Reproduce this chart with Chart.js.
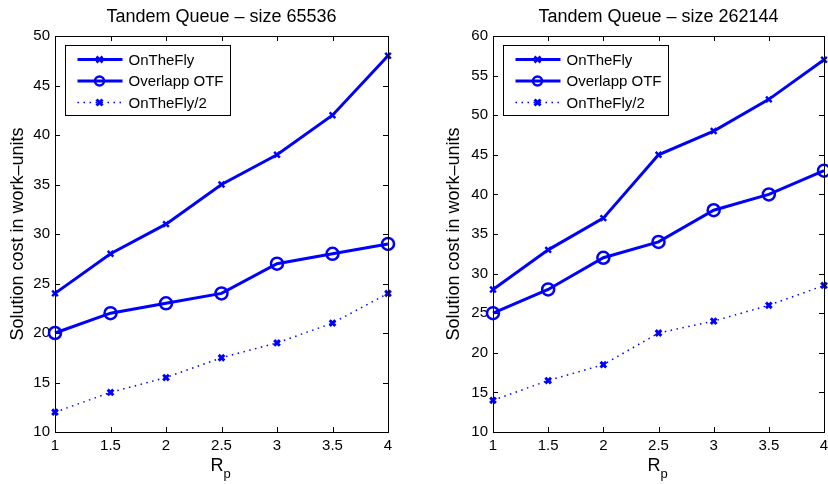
<!DOCTYPE html>
<html>
<head>
<meta charset="utf-8">
<script src="https://cdn.jsdelivr.net/npm/chart.js@4/dist/chart.umd.min.js"></script>
<style>
html, body { margin: 0; padding: 0; background: #fff; overflow: hidden; width: 828px; height: 484px; }
.panel { position: absolute; top: 0; height: 484px; }
</style>
</head>
<body>
<div class="panel" style="left:0"><canvas id="c1" width="414" height="484"></canvas></div>
<div class="panel" style="left:414px"><canvas id="c2" width="424" height="484"></canvas></div>
<script>
// x values (R_p) shared by both panels
var rp = [1, 1.5, 2, 2.5, 3, 3.5, 4];
var seriesNames = ["OnTheFly", "Overlapp OTF", "OnTheFly/2"];

// size 65536
var fly65536 = [24, 28, 31, 35, 38, 42, 48];
var otf65536 = [20, 22, 23, 24, 27, 28, 29];
var half65536 = [12, 14, 15.5, 17.5, 19, 21, 24];

// size 262144
var fly262144 = [28, 33, 37, 45, 48, 52, 57];
var otf262144 = [25, 28, 32, 34, 38, 40, 43];
var half262144 = [14, 16.5, 18.5, 22.5, 24, 26, 28.5];

var FONT = "'Liberation Sans', Arial, Helvetica, sans-serif";
var BLUE = "#0000ff";

function pts(ys) {
    return rp.map(function (x, i) { return { x: x, y: ys[i] }; });
}

function drawMarker(ctx, style, x, y, r) {
    ctx.beginPath();
    if (style === "circle") {
        ctx.arc(x, y, r, 0, Math.PI * 2);
    } else {
        ctx.moveTo(x - r, y - r); ctx.lineTo(x + r, y + r);
        ctx.moveTo(x - r, y + r); ctx.lineTo(x + r, y - r);
    }
    ctx.stroke();
}

// axis box, inward ticks, legend and the R_p label (matlab look)
var matlabPlugin = {
    id: "matlab",
    afterDraw: function (chart) {
        var ctx = chart.ctx, a = chart.chartArea;
        var xs = chart.scales.x, ys = chart.scales.y;
        ctx.save();
        ctx.strokeStyle = "#000";
        ctx.lineWidth = 1;
        ctx.strokeRect(Math.round(a.left) + 0.5, Math.round(a.top) + 0.5,
            Math.round(a.right - a.left), Math.round(a.bottom - a.top));
        ctx.beginPath();
        xs.ticks.forEach(function (t) {
            var px = Math.round(xs.getPixelForValue(t.value)) + 0.5;
            ctx.moveTo(px, a.bottom); ctx.lineTo(px, a.bottom - 5);
            ctx.moveTo(px, a.top); ctx.lineTo(px, a.top + 5);
        });
        ys.ticks.forEach(function (t) {
            var py = Math.round(ys.getPixelForValue(t.value)) + 0.5;
            ctx.moveTo(a.left, py); ctx.lineTo(a.left + 5, py);
            ctx.moveTo(a.right, py); ctx.lineTo(a.right - 5, py);
        });
        ctx.stroke();

        // legend
        var bx = Math.round(a.left) + 10.5, by = Math.round(a.top) + 9.5;
        ctx.fillStyle = "#fff";
        ctx.fillRect(bx, by, 165, 70);
        ctx.strokeStyle = "#000";
        ctx.strokeRect(bx, by, 165, 70);
        ctx.font = "15px " + FONT;
        ctx.textBaseline = "middle";
        chart.data.datasets.forEach(function (ds, i) {
            var ry = by + 14 + i * 21.5;
            ctx.strokeStyle = ds.borderColor;
            ctx.lineWidth = ds.borderWidth;
            ctx.setLineDash(ds.borderDash || []);
            ctx.beginPath();
            ctx.moveTo(bx + 12, ry); ctx.lineTo(bx + 57, ry);
            ctx.stroke();
            ctx.setLineDash([]);
            ctx.lineWidth = ds.pointBorderWidth;
            drawMarker(ctx, ds.pointStyle, bx + 34, ry, ds.pointStyle === "circle" ? 4.5 : 3);
            ctx.fillStyle = "#000";
            ctx.fillText(ds.label, bx + 63, ry + 1);
        });

        // x label R_p
        var cx = (a.left + a.right) / 2;
        ctx.fillStyle = "#000";
        ctx.textBaseline = "alphabetic";
        ctx.font = "18px " + FONT;
        ctx.textAlign = "left";
        ctx.fillText("R", cx - 11, a.bottom + 39);
        ctx.font = "13px " + FONT;
        ctx.fillText("p", cx + 2, a.bottom + 46);
        ctx.restore();
    }
};

function plainTick(v) { return String(v); }

function makeChart(id, title, fly, otf, half, yMax, yWidth, yTitlePad, rightPad) {
    return new Chart(document.getElementById(id), {
        type: "line",
        data: {
            datasets: [
                { label: seriesNames[0], data: pts(fly), borderColor: BLUE, borderWidth: 3,
                  pointStyle: "crossRot", pointRadius: 4, pointBorderWidth: 2.5,
                  pointBorderColor: BLUE, pointBackgroundColor: BLUE, clip: false },
                { label: seriesNames[1], data: pts(otf), borderColor: BLUE, borderWidth: 3,
                  pointStyle: "circle", pointRadius: 6, pointBorderWidth: 2.5,
                  pointBorderColor: BLUE, pointBackgroundColor: "rgba(0,0,0,0)", clip: false },
                { label: seriesNames[2], data: pts(half), borderColor: BLUE, borderWidth: 1.5,
                  borderDash: [1.5, 4.5],
                  pointStyle: "crossRot", pointRadius: 4, pointBorderWidth: 3,
                  pointBorderColor: BLUE, pointBackgroundColor: BLUE, clip: false }
            ]
        },
        options: {
            responsive: false,
            animation: false,
            layout: { padding: { left: 0, right: rightPad, top: 0, bottom: 0 } },
            plugins: {
                legend: { display: false },
                tooltip: { enabled: false },
                title: {
                    display: true, text: title, fullSize: false, color: "#000",
                    font: { family: FONT, size: 18, weight: "normal" },
                    padding: { top: 6, bottom: 8.4 }
                }
            },
            scales: {
                x: {
                    type: "linear", min: 1, max: 4,
                    ticks: { stepSize: 0.5, color: "#000", padding: 5, callback: plainTick,
                             font: { family: FONT, size: 15 } },
                    grid: { drawOnChartArea: false, drawTicks: false },
                    border: { color: "#000" },
                    afterFit: function (s) { s.height = 52; }
                },
                y: {
                    min: 10, max: yMax,
                    ticks: { stepSize: 5, color: "#000", padding: 5, callback: plainTick,
                             font: { family: FONT, size: 15 } },
                    grid: { drawOnChartArea: false, drawTicks: false },
                    border: { color: "#000" },
                    title: { display: true, text: "Solution cost in work\u2013units", color: "#000",
                             font: { family: FONT, size: 18 }, padding: { top: yTitlePad, bottom: 0 } },
                    afterFit: function (s) { s.width = yWidth; }
                }
            }
        },
        plugins: [matlabPlugin]
    });
}

makeChart("c1", "Tandem Queue \u2013 size 65536", fly65536, otf65536, half65536, 50, 55, 7, 26);
makeChart("c2", "Tandem Queue \u2013 size 262144", fly262144, otf262144, half262144, 60, 79, 29, 14);
</script>
</body>
</html>
